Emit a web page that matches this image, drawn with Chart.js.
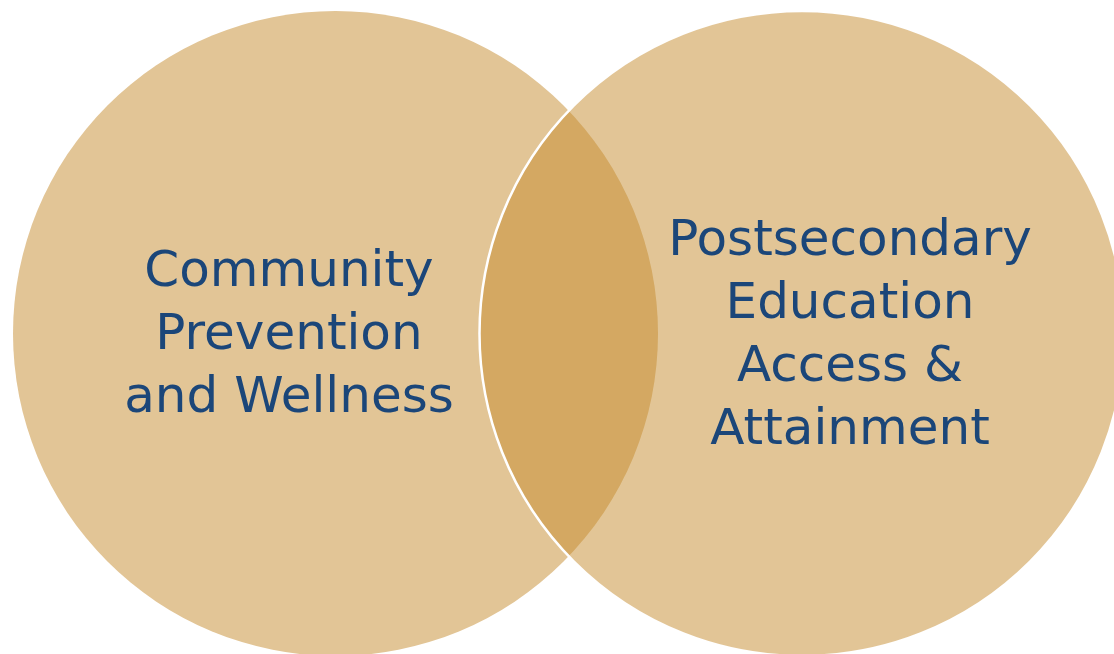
<!DOCTYPE html>
<html>
<head>
<meta charset="utf-8">
<script src="https://cdn.jsdelivr.net/npm/chart.js@4.4.1/dist/chart.umd.min.js"></script>
<style>
  html, body { margin: 0; padding: 0; background: #fff; }
  #wrap { width: 1114px; height: 654px; }
</style>
</head>
<body>
<div id="wrap"><canvas id="venn"></canvas></div>
<script>
// circles (in page units, 1 unit = 1px)
const circleNames = ["Community Prevention and Wellness", "Postsecondary Education Access & Attainment"];
const circleX = [335.5, 802];
const circleY = [333.5, 333.5];
const circleR = [322.5, 322.5];

const leftLines = ["Community", "Prevention", "and Wellness"];
const rightLines = ["Postsecondary", "Education", "Access &", "Attainment"];

const labelPlugin = {
  id: "vennLabels",
  afterDatasetsDraw(chart, args, opts) {
    const {ctx, scales: {x, y}} = chart;
    ctx.save();
    ctx.fillStyle = opts.color;
    ctx.font = opts.font;
    ctx.textAlign = "center";
    ctx.textBaseline = "alphabetic";
    opts.blocks.forEach(block => {
      const cx = x.getPixelForValue(block.x);
      const mid = y.getPixelForValue(block.y);
      const n = block.lines.length;
      block.lines.forEach((line, i) => {
        const by = mid + (i - (n - 1) / 2) * opts.lineHeight;
        ctx.fillText(line, cx, by);
      });
    });
    ctx.restore();
  },
};

new Chart(document.getElementById("venn"), {
  type: "bubble",
  data: {
    datasets: [
      {
        label: circleNames[1],
        data: [{x: circleX[1], y: circleY[1], r: circleR[1]}],
        backgroundColor: "rgba(198,139,45,0.5)",
        borderColor: "#ffffff",
        borderWidth: 2.5,
        clip: false,
        order: 0,
      },
      {
        label: circleNames[0],
        data: [{x: circleX[0], y: circleY[0], r: circleR[0]}],
        backgroundColor: "#e2c596",
        borderWidth: 0,
        clip: false,
        order: 1,
      },
    ],
  },
  options: {
    responsive: true,
    maintainAspectRatio: false,
    animation: false,
    events: [],
    // bubble radius would otherwise shrink the chart area
    layout: {padding: 0, autoPadding: false},
    scales: {
      x: {type: "linear", min: 0, max: 1114, display: false},
      y: {type: "linear", min: 0, max: 654, reverse: true, display: false},
    },
    plugins: {
      legend: {display: false},
      tooltip: {enabled: false},
      vennLabels: {
        color: "#1b4679",
        font: "50px 'DejaVu Sans'",
        lineHeight: 63,
        blocks: [
          {x: 289, y: 349, lines: leftLines},
          {x: 850, y: 349, lines: rightLines},
        ],
      },
    },
  },
  plugins: [labelPlugin],
});
</script>
</body>
</html>
